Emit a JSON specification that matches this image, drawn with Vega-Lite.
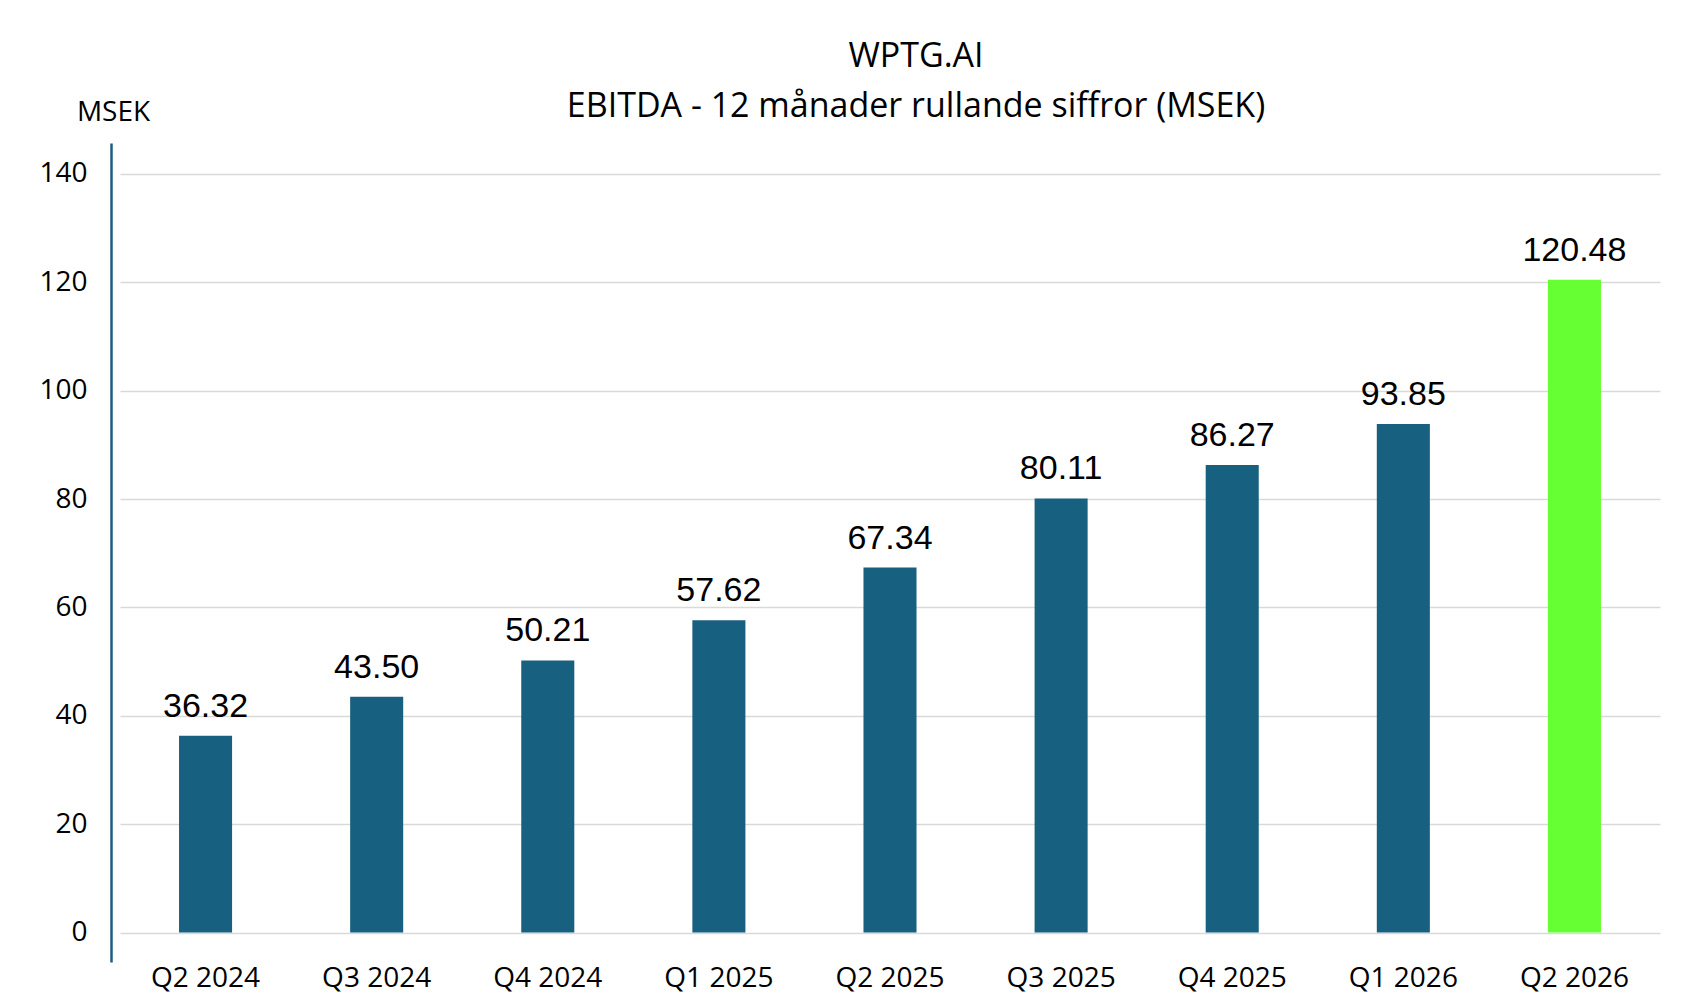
{
  "$schema": "https://vega.github.io/schema/vega-lite/v6.json",
  "autosize": "none",
  "width": 1540,
  "height": 819,
  "padding": {"left": 120, "top": 143, "right": 44, "bottom": 39},
  "background": "white",
  "title": {
    "text": ["WPTG.AI", "EBITDA - 12 månader rullande siffror (MSEK)"],
    "anchor": "middle",
    "font": "Open Sans",
    "fontSize": 34,
    "fontWeight": "normal",
    "lineHeight": 50,
    "color": "#000000",
    "dx": 26,
    "offset": -26
  },
  "data": {
    "values": [
      {"quarter": "Q2 2024", "ebitda": 36.32},
      {"quarter": "Q3 2024", "ebitda": 43.50},
      {"quarter": "Q4 2024", "ebitda": 50.21},
      {"quarter": "Q1 2025", "ebitda": 57.62},
      {"quarter": "Q2 2025", "ebitda": 67.34},
      {"quarter": "Q3 2025", "ebitda": 80.11},
      {"quarter": "Q4 2025", "ebitda": 86.27},
      {"quarter": "Q1 2026", "ebitda": 93.85},
      {"quarter": "Q2 2026", "ebitda": 120.48}
    ]
  },
  "encoding": {
    "x": {
      "field": "quarter",
      "type": "nominal",
      "sort": null,
      "title": null,
      "scale": {"paddingInner": 0, "paddingOuter": 0},
      "axis": {
        "labelAngle": 0,
        "labelFont": "Open Sans",
        "labelFontSize": 28,
        "labelColor": "#000000",
        "labelPadding": 2,
        "domain": false,
        "ticks": false,
        "grid": false
      }
    },
    "y": {
      "field": "ebitda",
      "type": "quantitative",
      "scale": {"domain": [-5.44, 145.7], "nice": false, "zero": false},
      "axis": {
        "values": [0, 20, 40, 60, 80, 100, 120, 140],
        "title": "MSEK",
        "titleAngle": 0,
        "titleFont": "Open Sans",
        "titleFontSize": 28,
        "titleFontWeight": "normal",
        "titleColor": "#000000",
        "titleAlign": "center",
        "titleBaseline": "middle",
        "titleX": 2,
        "titleY": -31,
        "offset": 9,
        "domainColor": "#1a5f80",
        "domainWidth": 2.5,
        "ticks": false,
        "labelFont": "Open Sans",
        "labelFontSize": 28,
        "labelColor": "#000000",
        "labelPadding": 24,
        "gridColor": "#d9d9d9",
        "gridWidth": 1.5
      }
    }
  },
  "layer": [
    {
      "mark": {"type": "bar", "width": {"band": 0.31}},
      "encoding": {
        "y2": {"datum": 0},
        "color": {
          "condition": {"test": "datum.quarter === 'Q2 2026'", "value": "#66ff33"},
          "value": "#18607f"
        }
      }
    },
    {
      "mark": {
        "type": "text",
        "font": "Liberation Sans",
        "fontSize": 34,
        "baseline": "alphabetic",
        "dy": -19,
        "color": "#000000"
      },
      "encoding": {
        "text": {"field": "ebitda", "type": "quantitative", "format": ".2f"}
      }
    }
  ],
  "config": {
    "view": {"stroke": null}
  }
}
